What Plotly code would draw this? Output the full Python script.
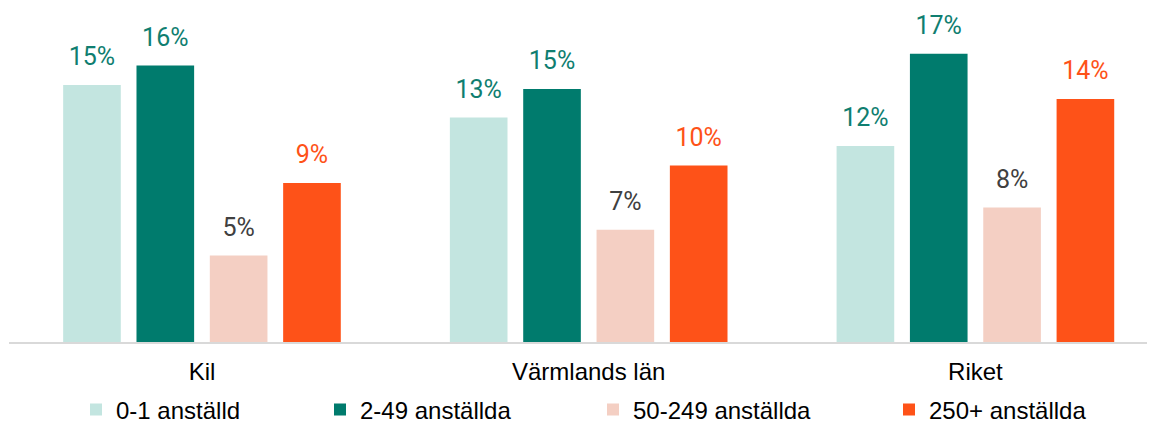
import plotly.graph_objects as go

categories = ["Kil", "Värmlands län", "Riket"]
series_names = ["0-1 anställd", "2-49 anställda", "50-249 anställda", "250+ anställda"]
vals_0_1 = [15.12, 13.21, 11.53]
vals_2_49 = [16.27, 14.88, 16.96]
vals_50_249 = [5.09, 6.61, 7.92]
vals_250 = [9.35, 10.39, 14.29]

series_values = [vals_0_1, vals_2_49, vals_50_249, vals_250]
bar_colors = ["#C3E5E0", "#007B6D", "#F4CFC3", "#FE5218"]
label_colors = ["#0F7E70", "#0F7E70", "#404040", "#FE5218"]

# page has an 8px body margin; size the figure so it fits the 1155x423 window
W, H = 1147, 415
legend_text_x = [107, 351, 624, 920]   # figure px where legend text starts

fig = go.Figure()
for i, (name, vals) in enumerate(zip(series_names, series_values)):
    fig.add_trace(go.Bar(
        x=categories, y=vals, name=name,
        marker=dict(color=bar_colors[i], line=dict(width=0)),
        offsetgroup=str(i),
        legend="legend" if i == 0 else f"legend{i+1}",
        hoverinfo="skip",
    ))
for i, (name, vals) in enumerate(zip(series_names, series_values)):
    fig.add_trace(go.Scatter(
        x=categories, y=vals, mode="markers+text",
        marker=dict(size=20, opacity=0),
        texttemplate="%{y:.0f}%", textposition="top center",
        textfont=dict(family="Roboto", size=25, color=label_colors[i]),
        offsetgroup=str(i), showlegend=False, hoverinfo="skip",
        cliponaxis=False,
    ))

bargap = 0.2415
legend_font = dict(family="Liberation Sans, Arial", size=24, color="#000000")
layout_legends = {}
for i in range(4):
    key = "legend" if i == 0 else f"legend{i+1}"
    layout_legends[key] = dict(
        orientation="h", xref="container", yref="container",
        x=(legend_text_x[i] - 39) / W, xanchor="left",
        y=1 - 402 / H, yanchor="middle",
        font=legend_font, bgcolor="rgba(0,0,0,0)", borderwidth=0,
    )

fig.update_layout(
    width=W, height=H,
    margin=dict(l=1, r=0, t=0, b=81),
    plot_bgcolor="white", paper_bgcolor="white",
    barmode="group", bargap=bargap, bargroupgap=0.214,
    scattermode="group", scattergap=bargap,
    xaxis=dict(type="category", range=[-0.499, 2.4644], showline=True,
               linecolor="#D9D9D9", linewidth=1.5, ticks="", showgrid=False,
               ticklabelstandoff=7,
               tickfont=dict(family="Liberation Sans, Arial", size=24, color="#000000"),
               fixedrange=True),
    yaxis=dict(range=[0, 19.65], visible=False, showgrid=False, zeroline=False, fixedrange=True),
    **layout_legends,
)

fig.write_html("out.html")
